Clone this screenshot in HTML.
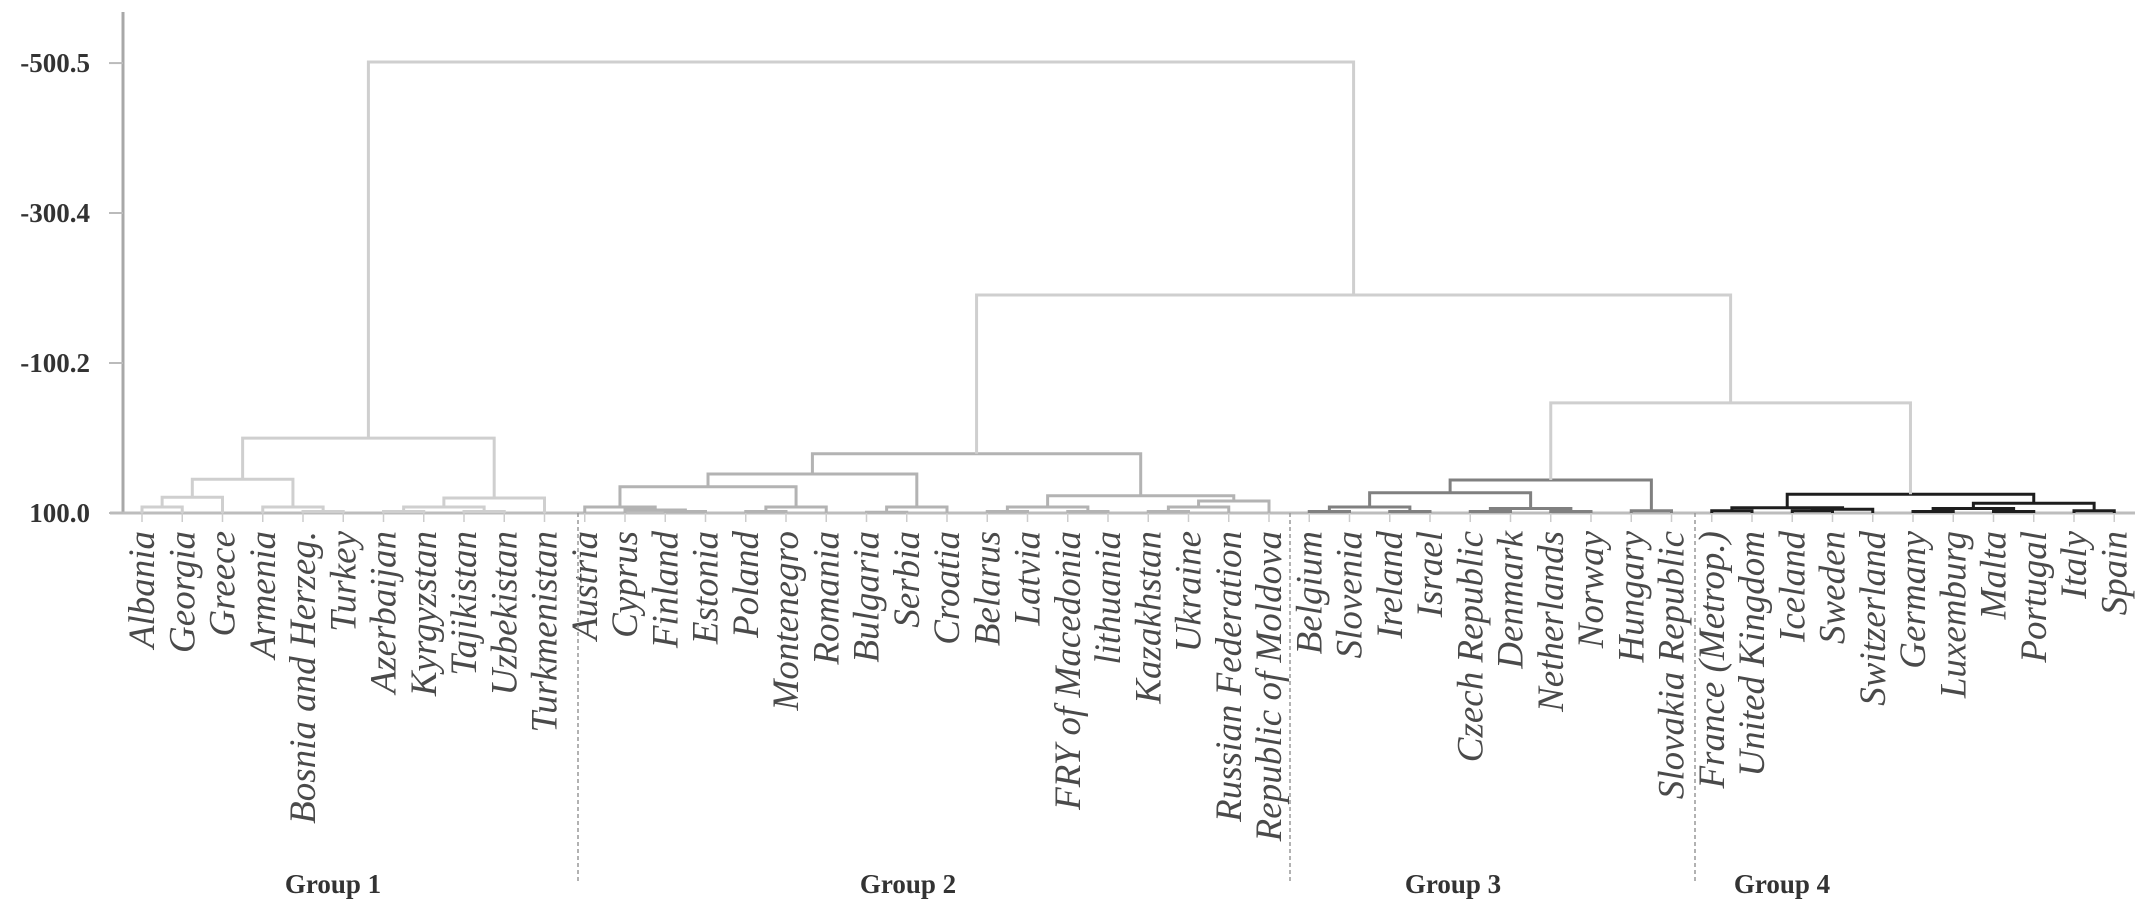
<!DOCTYPE html>
<html><head><meta charset="utf-8"><style>
html,body{margin:0;padding:0;background:#fff;}
svg{display:block;}
</style></head><body>
<svg id="chart" width="2150" height="913" viewBox="0 0 2150 913" xmlns="http://www.w3.org/2000/svg">
<g id="axis"></g>
<g id="tree"></g>
<g id="labels"></g>
<g id="groups"></g>
</svg>
<script>
const leafNames = ["Albania","Georgia","Greece","Armenia","Bosnia and Herzeg.","Turkey","Azerbaijan","Kyrgyzstan","Tajikistan","Uzbekistan","Turkmenistan",
"Austria","Cyprus","Finland","Estonia","Poland","Montenegro","Romania","Bulgaria","Serbia","Croatia","Belarus","Latvia","FRY of Macedonia","lithuania","Kazakhstan","Ukraine","Russian Federation","Republic of Moldova",
"Belgium","Slovenia","Ireland","Israel","Czech Republic","Denmark","Netherlands","Norway","Hungary","Slovakia Republic",
"France (Metrop.)","United Kingdom","Iceland","Sweden","Switzerland","Germany","Luxemburg","Malta","Portugal","Italy","Spain"];
const leafGroup = [1,1,1,1,1,1,1,1,1,1,1, 2,2,2,2,2,2,2,2,2,2,2,2,2,2,2,2,2,2, 3,3,3,3,3,3,3,3,3,3, 4,4,4,4,4,4,4,4,4,4,4];
const mergeLeft  = [0,50,4,3,51,6,8,55,57,54, 13,12,11,15,63,62,18,66,65,21,23,69,25,72,73,71,68, 29,31,77,33,35,80,79,37,83, 39,41,87,86,44,46,90,48,92,89,85,76,59];
const mergeRight = [1,2,5,52,53,7,9,56,10,58, 14,60,61,16,17,64,19,20,67,22,24,70,26,27,28,74,75, 30,32,78,34,36,81,82,38,84, 40,42,43,88,45,47,91,49,93,94,95,96,97];
const mergeHeight= [8,21,2,8,45,2,2,8,20,100, 2,4,8,2,8,35,1,8,52,2,2,8,2,8,16,23,79, 2,2,8,2,2,6,27,3,44, 3,3,5,7,2,2,6,3,13,25,147,291,602];
const tickLabels = ["-500.5","-300.4","-100.2","100.0"];
const tickValues = [-500.5,-300.4,-100.2,100.0];
const groupNames = ["Group 1","Group 2","Group 3","Group 4"];

const NS="http://www.w3.org/2000/svg";
const baseY=513, pxPerUnit=150/200.2;
function yOfH(h){return baseY-h*pxPerUnit;}
function yOfV(v){return yOfH(100-v);}
function xOfLeaf(i){return 142+i*40.25;}
const colors={1:"#cfcfcf",2:"#b3b3b3",3:"#808080",4:"#1e1e1e",0:"#cfcfcf"};
function mk(tag,attrs,parent){const e=document.createElementNS(NS,tag);for(const k in attrs)e.setAttribute(k,attrs[k]);parent.appendChild(e);return e;}

const axis=document.getElementById('axis');
const yl=mk('line',{x1:123,y1:12,x2:123,y2:baseY,stroke:"#a8a8a8","stroke-width":3},axis);


const bl=mk('line',{x1:110,y1:baseY,x2:2135,y2:baseY,stroke:"#bdbdbd","stroke-width":3},axis);


tickValues.forEach((v,i)=>{
  const y=yOfV(v);
  const t=mk('line',{x1:109,y1:y,x2:123,y2:y,stroke:"#bbb","stroke-width":2},axis);
  
  
  const tx=mk('text',{x:90,y:y+9,"text-anchor":"end","font-family":"Liberation Serif, serif","font-weight":"bold","font-size":"27px",fill:"#333"},axis);
  tx.textContent=tickLabels[i];
  
  
});

const nodeX=[],nodeH=[],nodeG=[];
leafNames.forEach((n,i)=>{nodeX[i]=xOfLeaf(i);nodeH[i]=0;nodeG[i]=leafGroup[i];});
const tree=document.getElementById('tree');
mergeLeft.forEach((a,k)=>{
  const b=mergeRight[k],h=mergeHeight[k],id=leafNames.length+k;
  nodeX[id]=(nodeX[a]+nodeX[b])/2;nodeH[id]=h;
  nodeG[id]=(nodeG[a]===nodeG[b])?nodeG[a]:0;
  const y=yOfH(h);
  const p=mk('path',{d:`M${nodeX[a]},${yOfH(nodeH[a])}V${y}H${nodeX[b]}V${yOfH(nodeH[b])}`,fill:"none",stroke:colors[nodeG[id]],"stroke-width":3},tree);
  
  
});

const labels=document.getElementById('labels');
leafNames.forEach((n,i)=>{
  const x=xOfLeaf(i);
  const tk=mk('line',{x1:x,y1:baseY,x2:x,y2:baseY+9,stroke:"#ccc","stroke-width":1.5},labels);
  
  
  const t=mk('text',{transform:`translate(${x+12},531) rotate(-90)`,"text-anchor":"end","font-family":"Liberation Serif, serif","font-style":"italic","font-size":"37px",fill:"#4a4a4a"},labels);
  t.textContent=n;
  
  
});

const groups=document.getElementById('groups');
const sepX=[578,1290,1695];
sepX.forEach(x=>{
  const s=mk('line',{x1:x,y1:baseY,x2:x,y2:883,stroke:"#999","stroke-width":1.5,"stroke-dasharray":"4,3"},groups);
  
  
});
const groupCX=[333,908,1453,1782];
groupNames.forEach((g,i)=>{
  const t=mk('text',{x:groupCX[i],y:893,"text-anchor":"middle","font-family":"Liberation Serif, serif","font-weight":"bold","font-size":"27px",fill:"#333"},groups);
  t.textContent=g;
  
  
});
</script>
</body></html>
